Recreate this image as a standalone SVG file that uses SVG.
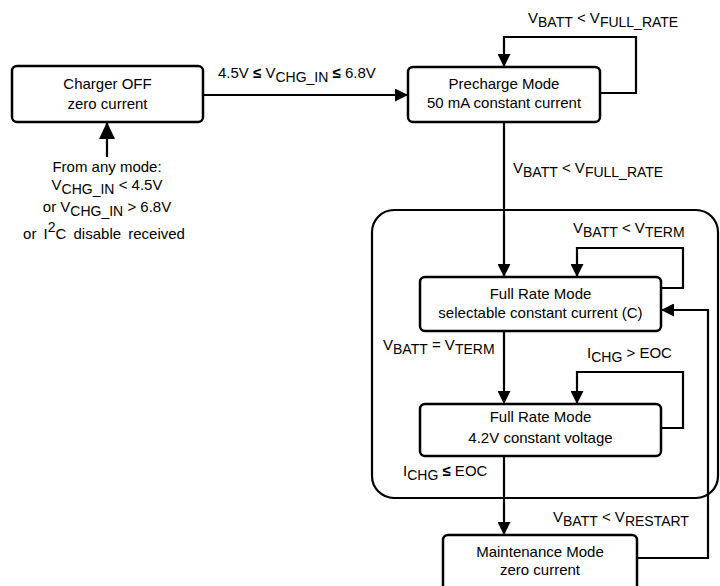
<svg xmlns="http://www.w3.org/2000/svg" width="720" height="586" viewBox="0 0 720 586">
<style>
text{font-family:"Liberation Sans",Arial,sans-serif;font-size:15px;fill:#000}
.c{text-anchor:middle}
.box{fill:#fff;stroke:#000;stroke-width:2.5}
.ln{fill:none;stroke:#000;stroke-width:2.2}
.s{font-size:14px}
.b{font-weight:bold}
</style>
<defs>
<marker id="ah" markerUnits="userSpaceOnUse" markerWidth="13" markerHeight="13" refX="13" refY="6.5" orient="auto"><path d="M0,0 L13,6.5 L0,13 z" fill="#000"/></marker>
<marker id="ahb" markerUnits="userSpaceOnUse" markerWidth="17" markerHeight="17" refX="17" refY="8" orient="auto"><path d="M0,0 L17,8 L0,16 z" fill="#000"/></marker>
</defs>
<g id="group-fullrate"><rect x="372" y="210" width="346" height="288" rx="22" fill="none" stroke="#000" stroke-width="2.2"/></g>
<g id="connectors">
<path class="ln" d="M203,95 H408" marker-end="url(#ah)"/>
<path class="ln" d="M600,93 H636 V37 H504 V67" marker-end="url(#ah)"/>
<path class="ln" d="M504,122 V277" marker-end="url(#ah)"/>
<path class="ln" d="M661,288 H683 V248 H577 V277" marker-end="url(#ah)"/>
<path class="ln" d="M504,331 V404" marker-end="url(#ah)"/>
<path class="ln" d="M661,428 H683 V372 H577 V404" marker-end="url(#ah)"/>
<path class="ln" d="M504,456 V535" marker-end="url(#ah)"/>
<path class="ln" d="M637,558 H708 V310 H661" marker-end="url(#ah)"/>
<path class="ln" d="M107,157 V122" stroke-width="2.6" marker-end="url(#ahb)"/>
<text x="218" y="78">4.5V <tspan class="b">≤</tspan> V<tspan class="s" dy="4">CHG_IN</tspan><tspan dy="-4"> </tspan><tspan class="b">≤</tspan> 6.8V</text>
<text x="528" y="23">V<tspan class="s" dy="4">BATT</tspan><tspan dy="-4"> &lt; V</tspan><tspan class="s" dy="4">FULL_RATE</tspan></text>
<text x="513" y="173">V<tspan class="s" dy="4">BATT</tspan><tspan dy="-4"> &lt; V</tspan><tspan class="s" dy="4">FULL_RATE</tspan></text>
<text x="573" y="233">V<tspan class="s" dy="4">BATT</tspan><tspan dy="-4"> &lt; V</tspan><tspan class="s" dy="4">TERM</tspan></text>
<text x="383" y="350">V<tspan class="s" dy="4">BATT</tspan><tspan dy="-4"> = V</tspan><tspan class="s" dy="4">TERM</tspan></text>
<text x="587" y="358">I<tspan class="s" dy="4">CHG</tspan><tspan dy="-4"> &gt; EOC</tspan></text>
<text x="403" y="476">I<tspan class="s" dy="4">CHG</tspan><tspan dy="-4"> </tspan><tspan class="b">≤</tspan> EOC</text>
<text x="553" y="522">V<tspan class="s" dy="4">BATT</tspan><tspan dy="-4"> &lt; V</tspan><tspan class="s" dy="4">RESTART</tspan></text>
<text class="c" x="107" y="172">From any mode:</text>
<text class="c" x="107" y="190">V<tspan class="s" dy="4">CHG_IN</tspan><tspan dy="-4"> &lt; 4.5V</tspan></text>
<text class="c" x="107" y="212">or V<tspan class="s" dy="4">CHG_IN</tspan><tspan dy="-4"> &gt; 6.8V</tspan></text>
<text class="c" x="104" y="239" word-spacing="3">or I<tspan class="s" dy="-7" font-size="11">2</tspan><tspan dy="7">C disable received</tspan></text>
</g>
<g id="charger-off"><rect class="box" x="12" y="66" width="191" height="56" rx="5"/><text class="c" x="107.5" y="89">Charger OFF</text><text class="c" x="107.5" y="109">zero current</text></g>
<g id="precharge"><rect class="box" x="408" y="67" width="192" height="55" rx="5"/><text class="c" x="504" y="89">Precharge Mode</text><text class="c" x="504" y="108">50 mA constant current</text></g>
<g id="fullrate-cc"><rect class="box" x="420" y="277" width="241" height="54" rx="5"/><text class="c" x="540.5" y="299">Full Rate Mode</text><text class="c" x="540.5" y="318">selectable constant current (C)</text></g>
<g id="fullrate-cv"><rect class="box" x="420" y="404" width="241" height="52" rx="5"/><text class="c" x="540.5" y="422">Full Rate Mode</text><text class="c" x="540.5" y="443">4.2V constant voltage</text></g>
<g id="maintenance"><rect class="box" x="443" y="535" width="194" height="60" rx="5"/><text class="c" x="540" y="557">Maintenance Mode</text><text class="c" x="540" y="575">zero current</text></g>
</svg>
